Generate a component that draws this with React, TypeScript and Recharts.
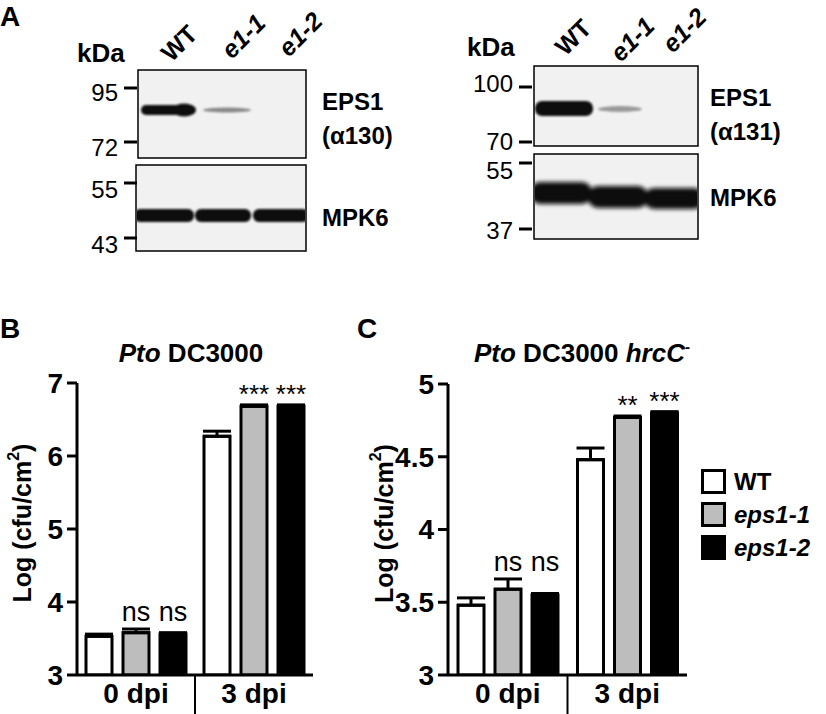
import React from 'react';
import { BarChart, Bar, XAxis, YAxis, ErrorBar, LabelList } from 'recharts';

const FONT = '"Liberation Sans", Arial, Helvetica, sans-serif';

const groups = ['0 dpi', '3 dpi'];
const genotypes = ['WT', 'eps1-1', 'eps1-2'];
const genotypeFills = ['#ffffff', '#bdbdbd', '#000000'];

// B: Pto DC3000
const ptoWT = [3.53, 6.27];
const ptoWTErr = [0.03, 0.07];
const ptoE11 = [3.58, 6.68];
const ptoE11Err = [0.05, 0.02];
const ptoE12 = [3.56, 6.68];
const ptoE12Err = [0.02, 0.02];
const ptoE11Sig = ['ns', '***'];
const ptoE12Sig = ['ns', '***'];
const ptoTicks = [3, 4, 5, 6, 7];

// C: Pto DC3000 hrcC-
const hrcWT = [3.48, 4.48];
const hrcWTErr = [0.05, 0.08];
const hrcE11 = [3.59, 4.77];
const hrcE11Err = [0.07, 0.01];
const hrcE12 = [3.55, 4.8];
const hrcE12Err = [0.01, 0.01];
const hrcE11Sig = ['ns', '**'];
const hrcE12Sig = ['ns', '***'];
const hrcTicks = [3, 3.5, 4, 4.5, 5];

// blot marker sizes (kDa)
const blot1Markers = ['95', '72', '55', '43'];
const blot2Markers = ['100', '70', '55', '37'];
const laneLabels = ['WT', 'e1-1', 'e1-2'];

const buildRows = (
  wt: number[], wtErr: number[], e11: number[], e11Err: number[],
  e12: number[], e12Err: number[], s11: string[], s12: string[]
) =>
  groups.map((g, i) => ({
    group: g,
    wt: wt[i], wtErr: [0, wtErr[i]],
    e11: e11[i], e11Err: [0, e11Err[i]], e11Sig: s11[i],
    e12: e12[i], e12Err: [0, e12Err[i]], e12Sig: s12[i],
    top: Math.max(e11[i] + e11Err[i], e12[i] + e12Err[i]),
  }));

const ptoRows = buildRows(ptoWT, ptoWTErr, ptoE11, ptoE11Err, ptoE12, ptoE12Err, ptoE11Sig, ptoE12Sig);
const hrcRows = buildRows(hrcWT, hrcWTErr, hrcE11, hrcE11Err, hrcE12, hrcE12Err, hrcE11Sig, hrcE12Sig);

// significance text above the error bar; "ns" labels share one height per group
const sigLabel = (rows: any[], key: string, pxPerUnit: number) => (props: any) => {
  const { x, y, width, index, value } = props;
  const row = rows[index];
  const isNs = value === 'ns';
  const ref = isNs ? row.top : row[key] + row[key + 'Err'][1];
  const ty = y - (ref - row[key]) * pxPerUnit - (isNs ? 8 : 2);
  return (
    <text x={x + width / 2} y={ty} textAnchor="middle" fontFamily={FONT}
      fontSize={isNs ? 27 : 26} fill="#000">
      {value}
    </text>
  );
};

const GroupTick = (props: any) => {
  const { x, y, payload, index, band } = props;
  return (
    <g>
      <text x={x} y={y + 28} textAnchor="middle" fontFamily={FONT} fontWeight="bold" fontSize={28} fill="#000">
        {payload.value}
      </text>
      {index === 1 && (
        <line x1={x - band / 2} x2={x - band / 2} y1={y} y2={y + 42} stroke="#000" strokeWidth={2} />
      )}
    </g>
  );
};

const yLabel = (cxOff: number) => (props: any) => {
  const vb = props.viewBox;
  const cx = vb.x + cxOff;
  const cy = vb.y + vb.height / 2 - 6;
  return (
    <text transform={`translate(${cx},${cy}) rotate(-90)`} textAnchor="middle" dominantBaseline="central"
      fontFamily={FONT} fontWeight="bold" fontSize={25} fill="#000">
      Log (cfu/cm<tspan dy={-9} fontSize={16}>2</tspan><tspan dy={9}>)</tspan>
    </text>
  );
};

const GenotypeLegend = () => (
  <div style={{ position: 'absolute', left: 701, top: 469, fontFamily: FONT }}>
    {genotypes.map((g, i) => (
      <div key={g} style={{ display: 'flex', alignItems: 'center', height: 25, marginBottom: 8 }}>
        <div style={{ width: 19, height: 19, border: '3px solid #000', background: genotypeFills[i] }} />
        <span style={{ marginLeft: 8, fontSize: 24, fontWeight: 'bold', fontStyle: i === 0 ? 'normal' : 'italic' }}>{g}</span>
      </div>
    ))}
  </div>
);

interface PanelProps {
  rows: any[];
  ticks: number[];
  domain: [number, number];
  width: number;
  margin: any;
  pxPerUnit: number;
  band: number;
  labelX: number;
}

const InfectionChart: React.FC<PanelProps> = ({ rows, ticks, domain, width, margin, pxPerUnit, band, labelX }) => (
  <BarChart width={width} height={424} data={rows} margin={margin} barSize={26} barGap={11}>
    <XAxis dataKey="group" height={39} tickSize={0} tickMargin={0} axisLine={{ stroke: '#000', strokeWidth: 3 }}
      tickLine={false} tick={(p: any) => <GroupTick {...p} band={band} />} interval={0} />
    <YAxis domain={domain} ticks={ticks} width={60} type="number" allowDataOverflow
      axisLine={{ stroke: '#000', strokeWidth: 3 }} tickLine={{ stroke: '#000', strokeWidth: 3 }}
      tickSize={10} tickMargin={4}
      tick={{ fontFamily: FONT, fontWeight: 'bold', fontSize: 28, fill: '#000' }}
      label={{ content: yLabel(labelX) }} />
    <Bar dataKey="wt" name="WT" fill={genotypeFills[0]} stroke="#000" strokeWidth={3} isAnimationActive={false}>
      <ErrorBar dataKey="wtErr" width={14} stroke="#000" strokeWidth={3} />
    </Bar>
    <Bar dataKey="e11" name="eps1-1" fill={genotypeFills[1]} stroke="#000" strokeWidth={3} isAnimationActive={false}>
      <ErrorBar dataKey="e11Err" width={14} stroke="#000" strokeWidth={3} />
      <LabelList dataKey="e11Sig" content={sigLabel(rows, 'e11', pxPerUnit)} />
    </Bar>
    <Bar dataKey="e12" name="eps1-2" fill={genotypeFills[2]} stroke="#000" strokeWidth={3} isAnimationActive={false}>
      <ErrorBar dataKey="e12Err" width={14} stroke="#000" strokeWidth={3} />
      <LabelList dataKey="e12Sig" content={sigLabel(rows, 'e12', pxPerUnit)} />
    </Bar>
  </BarChart>
);

const markerTick = (x1: number, y: number, ly: number, label: string, key: string) => (
  <g key={key}>
    <line x1={x1} x2={x1 + 13} y1={y} y2={y} stroke="#000" strokeWidth={3} />
    <text x={x1 - 6} y={ly} textAnchor="end" dominantBaseline="central" fontSize={24}>{label}</text>
  </g>
);

const Blots = () => (
  <svg width={826} height={290} style={{ position: 'absolute', left: 0, top: 0 }} fontFamily={FONT}>
    <defs>
      <filter id="bl" x="-20%" y="-80%" width="140%" height="260%">
        <feGaussianBlur stdDeviation="1.3" />
      </filter>
      <filter id="bl2" x="-20%" y="-80%" width="140%" height="260%">
        <feGaussianBlur stdDeviation="2" />
      </filter>
      <clipPath id="c1"><rect x={137} y={166} width={168} height={84} /></clipPath>
      <clipPath id="c2"><rect x={535} y={155} width={162} height={83} /></clipPath>
    </defs>
    <text x={0} y={26} fontSize={28} fontWeight="bold">A</text>

    {/* left blot */}
    <text x={77} y={62} fontSize={26} fontWeight="bold">kDa</text>
    {laneLabels.map((l, i) => (
      <text key={l} transform={`translate(${[179, 243, 300][i]},${[43, 36, 34][i]}) rotate(-45)`}
        textAnchor="middle" dominantBaseline="central" fontSize={25} fontWeight="bold"
        fontStyle={i === 0 ? 'normal' : 'italic'}>{l}</text>
    ))}
    <rect x={138} y={70} width={168} height={88} fill="#f1f1f1" stroke="#000" strokeWidth={1.5} />
    <rect x={136} y={165} width={170} height={86} fill="#f1f1f1" stroke="#000" strokeWidth={1.5} />
    <g filter="url(#bl)">
      <rect x={141} y={105} width={54} height={10} rx={5} fill="#111" />
      <ellipse cx={184} cy={110} rx={12} ry={6.5} fill="#111" />
      <ellipse cx={227} cy={110} rx={24} ry={2.5} fill="#888" />
    </g>
    <g clipPath="url(#c1)">
      <g filter="url(#bl)">
        <rect x={134} y={209} width={60} height={13} rx={6} fill="#0a0a0a" />
        <rect x={195} y={209} width={56} height={13} rx={6} fill="#0a0a0a" />
        <rect x={253} y={209} width={56} height={13} rx={6} fill="#0a0a0a" />
      </g>
    </g>
    {blot1Markers.map((m, i) =>
      markerTick(124, [88, 142, 183, 238][i], [92, 147, 189, 244][i], m, 'm1' + i))}
    <text x={322} y={110} fontSize={24} fontWeight="bold">EPS1</text>
    <text x={322} y={144} fontSize={24} fontWeight="bold">(α130)</text>
    <text x={322} y={226} fontSize={24} fontWeight="bold">MPK6</text>

    {/* right blot */}
    <text x={467} y={56} fontSize={26} fontWeight="bold">kDa</text>
    {laneLabels.map((l, i) => (
      <text key={l + 'b'} transform={`translate(${[573, 632, 684][i]},${[37, 39, 30][i]}) rotate(-45)`}
        textAnchor="middle" dominantBaseline="central" fontSize={25} fontWeight="bold"
        fontStyle={i === 0 ? 'normal' : 'italic'}>{l}</text>
    ))}
    <rect x={534} y={66} width={164} height={80} fill="#f1f1f1" stroke="#000" strokeWidth={1.5} />
    <rect x={534} y={154} width={164} height={85} fill="#f1f1f1" stroke="#000" strokeWidth={1.5} />
    <g filter="url(#bl)">
      <rect x={535} y={101} width={58} height={15} rx={7} fill="#111" />
      <ellipse cx={620} cy={109} rx={22} ry={3} fill="#999" />
    </g>
    <g clipPath="url(#c2)">
      <g filter="url(#bl2)">
        <rect x={530} y={182} width={62} height={22} rx={10} fill="#0a0a0a" />
        <rect x={588} y={186} width={60} height={22} rx={10} fill="#0a0a0a" />
        <rect x={644} y={188} width={60} height={21} rx={10} fill="#0a0a0a" />
      </g>
    </g>
    {blot2Markers.map((m, i) =>
      markerTick(519, [87, 142, 163, 229][i], [83, 141, 170, 230][i], m, 'm2' + i))}
    <text x={710} y={106} fontSize={24} fontWeight="bold">EPS1</text>
    <text x={710} y={140} fontSize={24} fontWeight="bold">(α131)</text>
    <text x={710} y={206} fontSize={24} fontWeight="bold">MPK6</text>
  </svg>
);

const Titles = () => (
  <svg width={826} height={90} style={{ position: 'absolute', left: 0, top: 290 }} fontFamily={FONT}>
    <text x={0} y={48} fontSize={28} fontWeight="bold">B</text>
    <text x={357} y={48} fontSize={28} fontWeight="bold">C</text>
    <text x={191} y={72} fontSize={26} fontWeight="bold" textAnchor="middle">
      <tspan fontStyle="italic">Pto</tspan> DC3000
    </text>
    <text x={582} y={72} fontSize={26} fontWeight="bold" textAnchor="middle">
      <tspan fontStyle="italic">Pto</tspan> DC3000 <tspan fontStyle="italic">hrcC</tspan>
      <tspan dy={-10} fontSize={15}>-</tspan>
    </text>
  </svg>
);

export default function App() {
  return (
    <div style={{ position: 'absolute', left: 0, top: 0, width: 826, height: 714, background: '#fff', overflow: 'hidden' }}>
      <Blots />
      <Titles />
      <div style={{ position: 'absolute', left: 0, top: 290 }}>
        <InfectionChart rows={ptoRows} ticks={ptoTicks} domain={[3, 7]} width={370}
          margin={{ top: 93, right: 57, bottom: 0, left: 17 }} pxPerUnit={73} band={118} labelX={5} />
      </div>
      <div style={{ position: 'absolute', left: 355, top: 290 }}>
        <InfectionChart rows={hrcRows} ticks={hrcTicks} domain={[3, 5]} width={471}
          margin={{ top: 94, right: 139, bottom: 0, left: 33 }} pxPerUnit={145.5} band={119.5} labelX={-4} />
      </div>
      <GenotypeLegend />
    </div>
  );
}
